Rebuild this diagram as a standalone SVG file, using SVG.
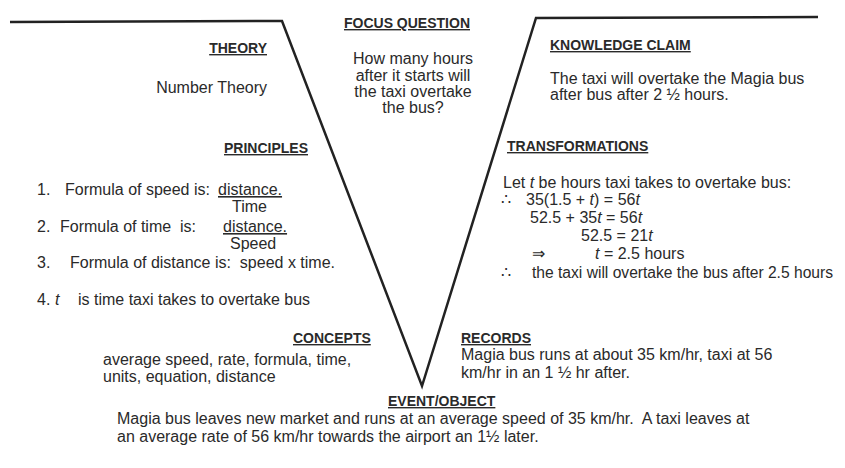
<svg xmlns="http://www.w3.org/2000/svg" width="845" height="468" viewBox="0 0 845 468">
<style>
text{font-family:"Liberation Sans",Arial,sans-serif;fill:#2a2a2a;font-size:16px;white-space:pre}
.h{font-weight:bold;font-size:14px;text-decoration:underline}
.u{text-decoration:underline}
.i{font-style:italic}
.ln{stroke:#222;stroke-width:2.5;fill:none;stroke-linejoin:miter}
</style>
<rect width="845" height="468" fill="#fff"/>
<g id="connectors">
<polyline class="ln" points="10,22 282,21 422,386 536,18 818,17"/>
</g>
<g id="focus-question">
<text class="h" x="407" y="28" text-anchor="middle">FOCUS QUESTION</text>
<text x="413" y="64" text-anchor="middle">How many hours</text>
<text x="413" y="81" text-anchor="middle">after it starts will</text>
<text x="413" y="97" text-anchor="middle">the taxi overtake</text>
<text x="413" y="113" text-anchor="middle">the bus?</text>
</g>
<g id="theory">
<text class="h" x="267" y="53" text-anchor="end">THEORY</text>
<text x="267" y="93" text-anchor="end">Number Theory</text>
</g>
<g id="knowledge-claim">
<text class="h" x="550" y="50">KNOWLEDGE CLAIM</text>
<text x="550" y="84">The taxi will overtake the Magia bus</text>
<text x="550" y="100">after bus after 2 ½ hours.</text>
</g>
<g id="principles">
<text class="h" x="224" y="153">PRINCIPLES</text>
<text x="37" y="195">1.</text><text x="65" y="195">Formula of speed is:</text><text class="u" x="218" y="195">distance.</text>
<text x="232" y="212">Time</text>
<text x="37" y="232">2.</text><text x="60" y="232">Formula of time  is:</text><text class="u" x="223" y="232">distance.</text>
<text x="230" y="249">Speed</text>
<text x="37" y="268">3.</text><text x="70" y="268">Formula of distance is:  speed x time.</text>
<text x="37" y="305">4.</text><text class="i" x="55" y="305">t</text><text x="78" y="305">is time taxi takes to overtake bus</text>
</g>
<g id="transformations">
<text class="h" x="507" y="151">TRANSFORMATIONS</text>
<text x="503" y="188">Let <tspan class="i">t</tspan> be hours taxi takes to overtake bus:</text>
<text x="501" y="205" font-size="13">∴</text><text x="526" y="205">35(1.5 + <tspan class="i">t</tspan>) = 56<tspan class="i">t</tspan></text>
<text x="530" y="223">52.5 + 35<tspan class="i">t</tspan> = 56<tspan class="i">t</tspan></text>
<text x="581" y="241">52.5 = 21<tspan class="i">t</tspan></text>
<text x="532" y="259" font-size="14">⇒</text><text x="595" y="259"><tspan class="i">t</tspan> = 2.5 hours</text>
<text x="501" y="278" font-size="13">∴</text><text x="532" y="278" textLength="301" lengthAdjust="spacingAndGlyphs">the taxi will overtake the bus after 2.5 hours</text>
</g>
<g id="concepts">
<text class="h" x="293" y="343">CONCEPTS</text>
<text x="103" y="365">average speed, rate, formula, time,</text>
<text x="103" y="382">units, equation, distance</text>
</g>
<g id="records">
<text class="h" x="461" y="343">RECORDS</text>
<text x="461" y="360">Magia bus runs at about 35 km/hr, taxi at 56</text>
<text x="461" y="378">km/hr in an 1 ½ hr after.</text>
</g>
<g id="event-object">
<text class="h" x="388" y="406">EVENT/OBJECT</text>
<text x="117" y="424">Magia bus leaves new market and runs at an average speed of 35 km/hr.  A taxi leaves at</text>
<text x="117" y="442">an average rate of 56 km/hr towards the airport an 1½ later.</text>
</g>
</svg>
